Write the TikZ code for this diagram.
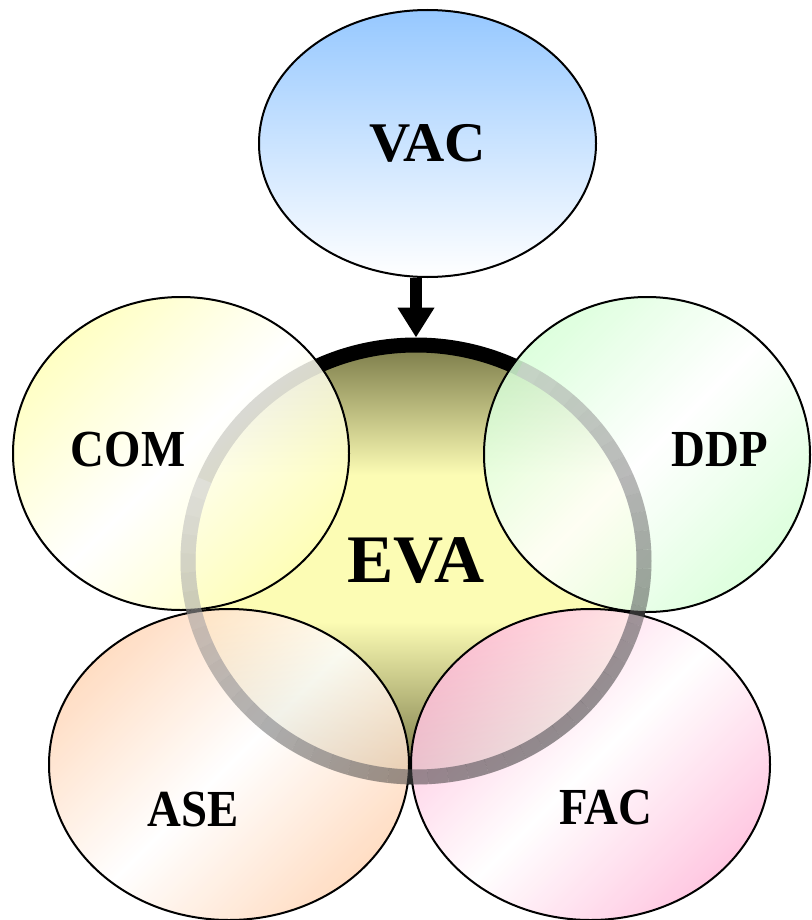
\documentclass[tikz,border=0pt]{standalone}
\usepackage{fontspec}
\setmainfont{Liberation Serif}[FakeStretch=0.9]
\newfontfamily\widefont{Liberation Serif}[FakeStretch=1.02]
\usepackage{xcolor}
\usepackage{tikz}
\usetikzlibrary{shapes.geometric,arrows.meta,positioning}

\definecolor{vacblue}{RGB}{150,200,255}
\definecolor{comyellow}{RGB}{255,255,185}
\definecolor{ddpgreen}{RGB}{215,255,215}
\definecolor{asepeach}{RGB}{255,215,185}
\definecolor{facpink}{RGB}{255,190,220}
\definecolor{evaolive}{RGB}{122,122,72}
\definecolor{evayellow}{RGB}{252,252,180}

\pgfdeclareverticalshading{evashade}{100bp}{color(0bp)=(evaolive); color(26bp)=(evaolive); color(43bp)=(evayellow); color(60bp)=(evayellow); color(75bp)=(evaolive); color(100bp)=(evaolive)}

\tikzset{
  petal/.style={draw, ellipse, line width=1pt, fill opacity=0.85, text opacity=1,
    left color=#1, right color=#1, middle color=white, shading angle=45},
  lbl/.style={inner sep=0pt, font=\bfseries\fontsize{26}{28}\selectfont},
  flow/.style={-{Triangle[length=15pt,width=17.5pt]}, line width=6pt},
  ring/.style={line width=7.5pt, draw opacity=0.5}
}

\begin{document}
\begin{tikzpicture}[x=0.5pt, y=-0.5pt]
  \useasboundingbox (0,0) rectangle (811,920);

  % top and centre
  \node[draw, ellipse, line width=1pt, top color=vacblue, bottom color=white,
        minimum width=168.5pt, minimum height=133.5pt,
        font=\widefont\bfseries\fontsize{28}{30}\selectfont] (VAC) at (427.5,143.5) {VAC};
  \node[draw, ellipse, line width=7.5pt, shading=evashade,
        minimum width=228pt, minimum height=216pt,
        font=\widefont\bfseries\fontsize{34}{36}\selectfont] (EVA) at (416,561) {EVA};
  \draw[flow] (VAC.south -| EVA.north) -- (EVA.north);

  % the four around EVA
  \node[petal=comyellow, minimum width=168pt, minimum height=156.5pt] (COM) at (181,453.5) {};
  \node[petal=ddpgreen, minimum width=163pt, minimum height=157.5pt] (DDP) at (647,454.5) {};
  \node[petal=asepeach, minimum width=180pt, minimum height=155.5pt] (ASE) at (229,764.5) {};
  \node[petal=facpink, minimum width=179.5pt, minimum height=155.5pt] (FAC) at (590.5,764.5) {};

  % soft ring, fading towards the upper left (left out under the black top)
  \foreach \a in {-63,-58,...,197} {
    \pgfmathsetmacro\ringmix{max(2,36+34*cos(\a+2.5-60))}
    \draw[ring, draw=black!\ringmix] (EVA.center) ++(\a:228 and 216)
      arc[start angle=\a, delta angle=5, x radius=228, y radius=216];
  }

  \node[lbl] (COMtext) at (128,450) {COM};
  \node[lbl] (DDPtext) at (720,450) {DDP};
  \node[lbl] (ASEtext) at (193,810) {ASE};
  \node[lbl] (FACtext) at (606,808) {FAC};
\end{tikzpicture}
\end{document}
